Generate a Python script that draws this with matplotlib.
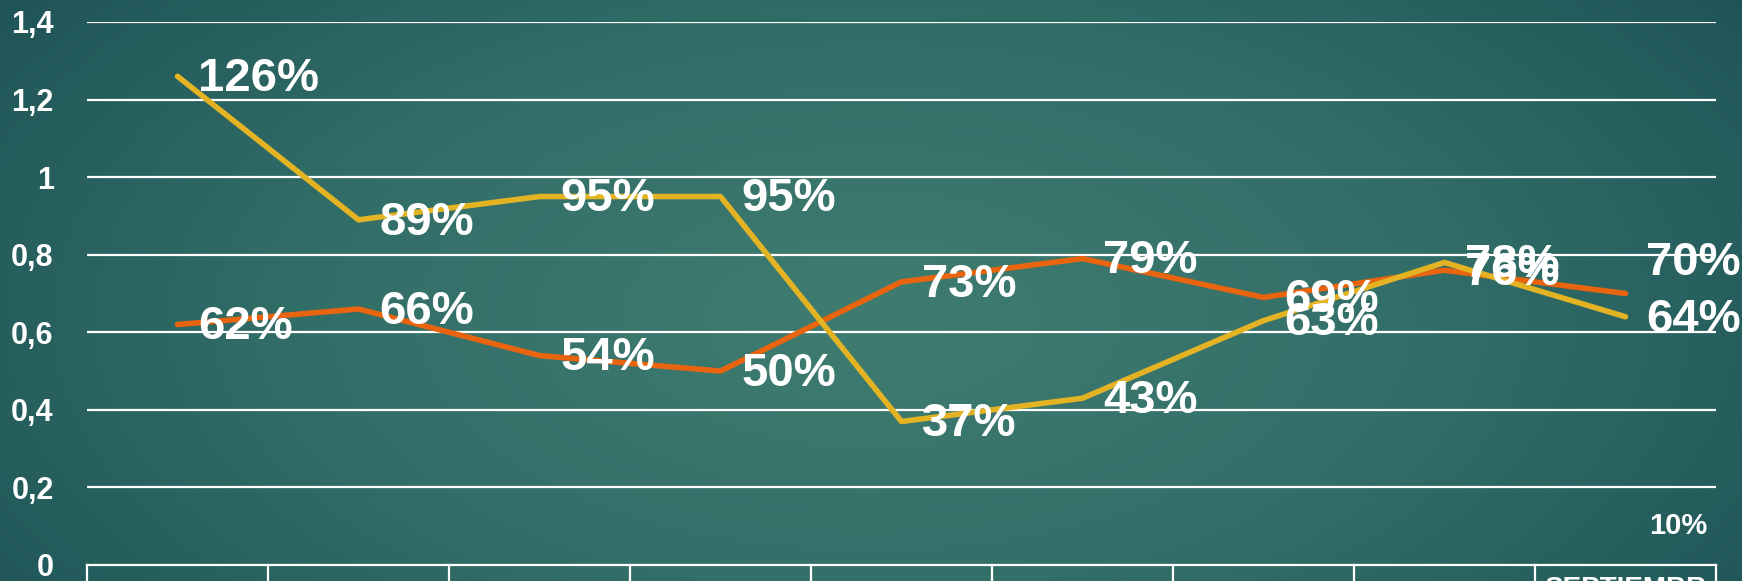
import numpy as np
import matplotlib
matplotlib.use("Agg")
import matplotlib.pyplot as plt
from matplotlib.colors import LinearSegmentedColormap

# ---- data ----
categories = ["ENERO", "FEBRERO", "MARZO", "ABRIL", "MAYO", "JUNIO", "JULIO", "AGOSTO", "SEPTIEMBRE"]
serie_amarilla = [1.26, 0.89, 0.95, 0.95, 0.37, 0.43, 0.63, 0.78, 0.64]
serie_naranja = [0.62, 0.66, 0.54, 0.50, 0.73, 0.79, 0.69, 0.76, 0.70]
serie_extra_ultimo = 0.10
y_ticks = [0, 0.2, 0.4, 0.6, 0.8, 1.0, 1.2, 1.4]

plt.rcParams['font.family'] = ['Liberation Sans', 'DejaVu Sans']

W, H = 1742, 581
fig = plt.figure(figsize=(W / 100, H / 100), dpi=100)

# background radial gradient
bg = fig.add_axes([0, 0, 1, 1], zorder=-10)
yy, xx = np.mgrid[0:1:300j, 0:1:900j]
d = np.sqrt(((xx - 0.50) / 0.62) ** 2 + ((yy - 0.45) / 0.95) ** 2)
d = np.clip(d, 0, 1)
cmap = LinearSegmentedColormap.from_list("bg", ["#3f7c70", "#336f69", "#1f5457"])
bg.imshow(d, cmap=cmap, aspect='auto', extent=[0, 1, 0, 1], origin='lower', vmin=0, vmax=1)
bg.axis('off')

left, right = 87 / W, 1716 / W
bottom, top = (H - 565) / H, (H - 22) / H
ax = fig.add_axes([left, bottom, right - left, top - bottom])
ax.set_facecolor('none')
for s in ax.spines.values():
    s.set_visible(False)

x = np.arange(len(categories))
ax.set_xlim(-0.5, len(categories) - 0.5)
ax.set_ylim(0, 1.4)

for t in y_ticks[1:]:
    ax.axhline(t, color='white', lw=1.6, zorder=1)

ax.set_yticks(y_ticks)
ax.set_yticklabels([("%g" % t).replace('.', ',') for t in y_ticks],
                   color='white', fontsize=22, fontweight='bold')
ax.tick_params(axis='y', length=0, pad=24)
ax.set_xticks([])

ax.plot(x, serie_naranja, color='#e8640e', lw=4, zorder=3, solid_capstyle='round')
ax.plot(x, serie_amarilla, color='#e3b324', lw=4, zorder=4, solid_capstyle='round')

label_kw = dict(color='white', fontsize=34, fontweight='bold', ha='left', va='center',
                textcoords='offset points', zorder=6)
for i, v in enumerate(serie_amarilla):
    ax.annotate(f"{round(v * 100)}%", (x[i], v), xytext=(15, -2), **label_kw)
for i, v in enumerate(serie_naranja):
    dy = 22 if i == len(serie_naranja) - 1 else -2
    ax.annotate(f"{round(v * 100)}%", (x[i], v), xytext=(15, dy), **label_kw)
ax.annotate(f"{round(serie_extra_ultimo * 100)}%", (x[-1], serie_extra_ultimo), xytext=(17, 0),
            color='white', fontsize=21, fontweight='bold', ha='left', va='center',
            textcoords='offset points', zorder=6)

# category table under the axis
ax.plot([-0.5, len(categories) - 0.5], [0, 0], color='white', lw=1.6, clip_on=False, zorder=2)
for b in np.arange(-0.5, len(categories), 1.0):
    ax.plot([b, b], [0, -0.3], color='white', lw=1.6, clip_on=False, zorder=2)

def wrap(s, n=9):
    return s if len(s) <= n else s[:n] + "\n" + s[n:]

for i, c in enumerate(categories):
    ax.annotate(wrap(c), (x[i], 0), xytext=(0, -27), textcoords='offset points',
                ha='center', va='center', color='white', fontsize=20, fontweight='bold',
                annotation_clip=False, linespacing=1.1)

fig.savefig("out.png", dpi=100)
